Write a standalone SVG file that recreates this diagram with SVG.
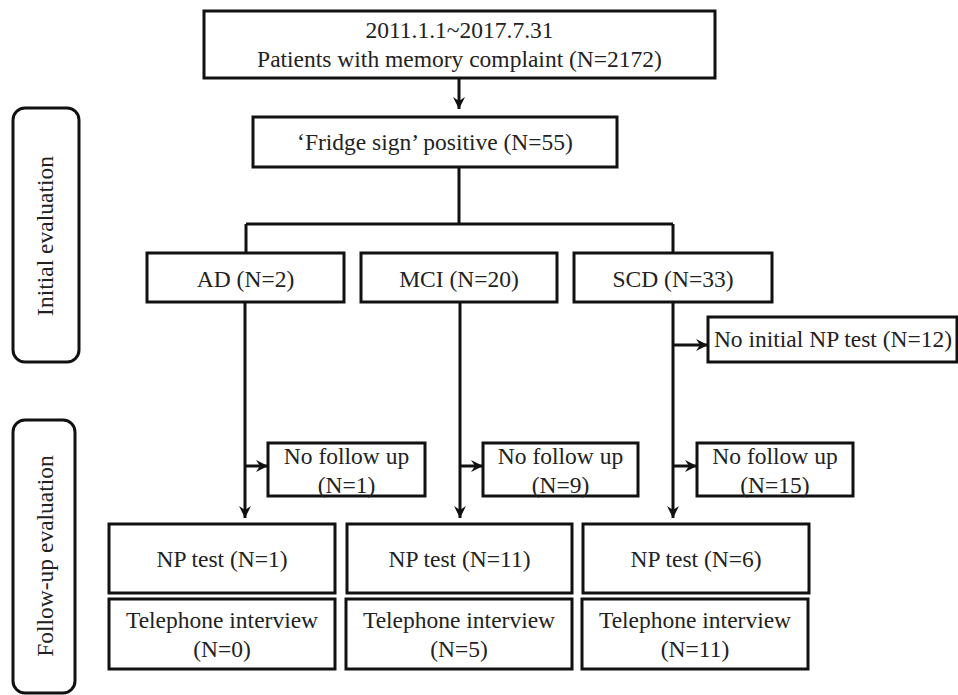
<svg xmlns="http://www.w3.org/2000/svg" width="958" height="695" viewBox="0 0 958 695">
<style>
.box{fill:#fff;stroke:#111;stroke-width:3}
.t{font-family:"Liberation Serif","Times New Roman",serif;font-size:23.5px;fill:#222;text-anchor:middle}
.c{fill:none;stroke:#111;stroke-width:3}
.a{fill:none;stroke:#111;stroke-width:3;marker-end:url(#ah)}
</style>
<defs>
<marker id="ah" markerUnits="userSpaceOnUse" markerWidth="14" markerHeight="14" viewBox="0 0 14 14" refX="13" refY="7" orient="auto">
<path d="M1,1 L13,7 L1,13 L5,7 z" fill="#111"/>
</marker>
</defs>
<rect width="958" height="695" fill="#fff"/>
<g id="side-initial"><rect class="box" x="13" y="108" width="66" height="254" rx="12"/><text class="t" x="53" y="236" transform="rotate(-90 53 236)">Initial evaluation</text></g>
<g id="side-followup"><rect class="box" x="13" y="420" width="62" height="273" rx="12"/><text class="t" x="53" y="556" transform="rotate(-90 53 556)">Follow-up evaluation</text></g>
<g id="connectors">
<path class="a" d="M459,78 V109"/>
<path class="c" d="M459,167 V224 M246,224 H673 M246,224 V253 M673,224 V253"/>
<path class="a" d="M245,302 V518"/>
<path class="a" d="M460,302 V518"/>
<path class="a" d="M673,302 V518"/>
<path class="a" d="M673,345 H708"/>
<path class="a" d="M245,466 H268"/>
<path class="a" d="M460,466 H483"/>
<path class="a" d="M673,466 H697"/>
</g>
<g id="n-top"><rect class="box" x="204" y="11" width="511" height="67"/><text class="t" x="459.5" y="38">2011.1.1~2017.7.31</text><text class="t" x="459.5" y="67">Patients with memory complaint (N=2172)</text></g>
<g id="n-fridge"><rect class="box" x="253" y="117" width="364" height="50"/><text class="t" x="435" y="150">‘Fridge sign’ positive (N=55)</text></g>
<g id="n-ad"><rect class="box" x="147" y="253" width="197" height="49"/><text class="t" x="245.5" y="287">AD (N=2)</text></g>
<g id="n-mci"><rect class="box" x="361" y="253" width="196" height="49"/><text class="t" x="459" y="287">MCI (N=20)</text></g>
<g id="n-scd"><rect class="box" x="574" y="253" width="198" height="49"/><text class="t" x="673" y="287">SCD (N=33)</text></g>
<g id="n-noinit"><rect class="box" x="708" y="317" width="249" height="45"/><text class="t" x="833" y="347">No initial NP test (N=12)</text></g>
<g id="n-nofu-ad"><rect class="box" x="268" y="443" width="157" height="53"/><text class="t" x="346.5" y="464">No follow up</text><text class="t" x="346.5" y="493">(N=1)</text></g>
<g id="n-nofu-mci"><rect class="box" x="483" y="443" width="155" height="53"/><text class="t" x="560.5" y="464">No follow up</text><text class="t" x="560.5" y="493">(N=9)</text></g>
<g id="n-nofu-scd"><rect class="box" x="697" y="443" width="156" height="53"/><text class="t" x="775" y="464">No follow up</text><text class="t" x="775" y="493">(N=15)</text></g>
<g id="n-np-ad"><rect class="box" x="109" y="524" width="226" height="69"/><text class="t" x="222" y="567">NP test (N=1)</text></g>
<g id="n-np-mci"><rect class="box" x="347" y="524" width="225" height="69"/><text class="t" x="459.5" y="567">NP test (N=11)</text></g>
<g id="n-np-scd"><rect class="box" x="583" y="524" width="226" height="69"/><text class="t" x="696" y="567">NP test (N=6)</text></g>
<g id="n-tel-ad"><rect class="box" x="109" y="599" width="226" height="70"/><text class="t" x="222" y="628">Telephone interview</text><text class="t" x="222" y="657">(N=0)</text></g>
<g id="n-tel-mci"><rect class="box" x="346" y="599" width="226" height="70"/><text class="t" x="459" y="628">Telephone interview</text><text class="t" x="459" y="657">(N=5)</text></g>
<g id="n-tel-scd"><rect class="box" x="582" y="599" width="226" height="70"/><text class="t" x="695" y="628">Telephone interview</text><text class="t" x="695" y="657">(N=11)</text></g>
</svg>
